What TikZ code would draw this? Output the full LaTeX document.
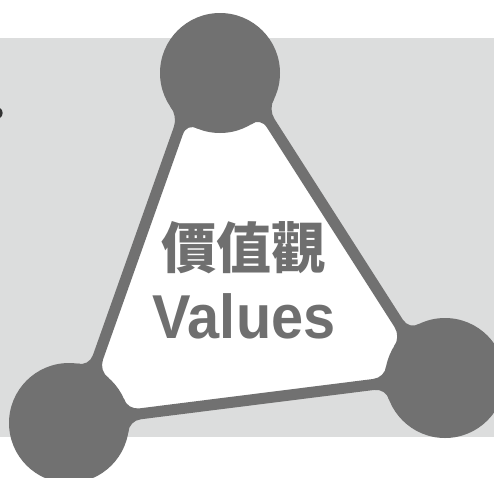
\documentclass[tikz,border=0pt]{standalone}
\usepackage{fontspec}
\setmainfont{Liberation Sans}
\newfontfamily\cjk{Noto Sans CJK TC}
\usetikzlibrary{calc}
\definecolor{bgc}{HTML}{DCDDDD}
\definecolor{shp}{HTML}{717171}
\definecolor{txt}{HTML}{6F6F6F}
\newcommand\fil[3]{.. controls ($(#1)!0.6!(#2)$) and ($(#3)!0.6!(#2)$) .. (#3)}
\begin{document}
\begin{tikzpicture}[x=1pt,y=-1pt,
  blob/.style={fill=shp},
  txtlbl/.style={text=txt,inner sep=0pt}]
\clip (0,0) rectangle (494,477);
\fill[bgc] (0,38) rectangle (494,437);
\fill[black!80] (0,108) .. controls (3.5,110) and (3.5,116) .. (0,118) -- cycle;
% circle centres and triangle vertices
\coordinate (A) at (220,73);
\coordinate (B) at (69,423);
\coordinate (C) at (445,378);
\coordinate (T) at (213,33);
\coordinate (L) at (75,422);
\coordinate (R) at (433,377);
\fill[white] (T) -- (L) -- (R) -- cycle;
% line 1 (A-B)
\coordinate (l1aqp) at (197.36,128.57);
\coordinate (l1aip) at (186.9,123.05);
\coordinate (l1aep) at (182.89,134.36);
\coordinate (l1bep) at (102.97,359.65);
\coordinate (l1bip) at (98.96,370.96);
\coordinate (l1bqp) at (108.55,377.88);
\coordinate (l1bqm) at (77.44,363.6);
\coordinate (l1bim) at (88.94,366.31);
\coordinate (l1bem) at (92.95,355.0);
\coordinate (l1aem) at (173.83,127.0);
\coordinate (l1aim) at (177.84,115.69);
\coordinate (l1aqm) at (170.28,106.59);
\fill[blob] (l1aqp) \fil{l1aqp}{l1aip}{l1aep} -- (l1bep) \fil{l1bep}{l1bip}{l1bqp} -- (B) -- (l1bqm) \fil{l1bqm}{l1bim}{l1bem} -- (l1aem) \fil{l1aem}{l1aim}{l1aqm} -- (A) -- cycle;
% line 2 (A-C)
\coordinate (l2aqp) at (250.94,124.41);
\coordinate (l2aip) at (260.42,117.35);
\coordinate (l2aep) at (266.89,127.46);
\coordinate (l2cep) at (394.49,327.0);
\coordinate (l2cip) at (400.96,337.11);
\coordinate (l2cqp) at (393.89,346.57);
\coordinate (l2cqm) at (419.46,323.71);
\coordinate (l2cim) at (409.26,329.68);
\coordinate (l2cem) at (402.79,319.57);
\coordinate (l2aem) at (274.54,119.03);
\coordinate (l2aim) at (268.07,108.92);
\coordinate (l2aqm) at (274.17,98.8);
\fill[blob] (l2aqp) \fil{l2aqp}{l2aip}{l2aep} -- (l2cep) \fil{l2cep}{l2cip}{l2cqp} -- (C) -- (l2cqm) \fil{l2cqm}{l2cim}{l2cem} -- (l2aem) \fil{l2aem}{l2aim}{l2aqm} -- (A) -- cycle;
% line 3 (B-C)
\coordinate (l3bqp) at (123.82,398.62);
\coordinate (l3bip) at (127.54,409.85);
\coordinate (l3bep) at (139.45,408.35);
\coordinate (l3cep) at (373.13,378.99);
\coordinate (l3cip) at (385.04,377.49);
\coordinate (l3cqp) at (386.27,365.72);
\coordinate (l3cqm) at (389.13,399.87);
\coordinate (l3cim) at (385.95,388.47);
\coordinate (l3cem) at (374.04,389.97);
\coordinate (l3bem) at (140.87,419.26);
\coordinate (l3bim) at (128.96,420.76);
\coordinate (l3bqm) at (128.24,432.56);
\fill[blob] (l3bqp) \fil{l3bqp}{l3bip}{l3bep} -- (l3cep) \fil{l3cep}{l3cip}{l3cqp} -- (C) -- (l3cqm) \fil{l3cqm}{l3cim}{l3cem} -- (l3bem) \fil{l3bem}{l3bim}{l3bqm} -- (B) -- cycle;
% circles
\fill[blob] (A) circle[radius=60pt];
\fill[blob] (B) circle[radius=60pt];
\fill[blob] (C) circle[radius=60pt];
% text
\node[txtlbl,anchor=base,font=\cjk\bfseries\fontsize{55}{60}\selectfont] (zh) at (243.5,268) {價值觀};
\node[txtlbl,anchor=base,xscale=0.93,font=\bfseries\fontsize{62}{70}\selectfont] (en) at (244,338) {Values};
\end{tikzpicture}
\end{document}
